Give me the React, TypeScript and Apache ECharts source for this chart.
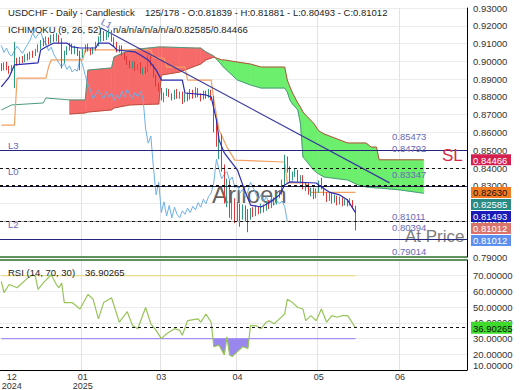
import React, { useEffect, useRef } from "react";
import * as echarts from "echarts";

const FONT = "'Liberation Sans', Arial, sans-serif";
const SLOTS = 178;
const categories = Array.from({ length: SLOTS }, (_, i) => String(i));

const dateTickIdx = [4, 31, 61, 90, 121, 152];
const dateTickText = ["12\n2024", "01\n2025", "03", "04", "05", "06"];
const gridLineIdx = [31, 61, 90, 121, 152];

// [open, close, low, high]
const candles: number[][] = [
  [0.8975, 0.8955, 0.8945, 0.899], [0.8955, 0.8985, 0.895, 0.8995], [0.8985, 0.896, 0.895, 0.8998],
  [0.896, 0.894, 0.893, 0.8975], [0.894, 0.8972, 0.8935, 0.898], [0.8972, 0.9, 0.885, 0.911],
  [0.9, 0.8985, 0.8975, 0.902], [0.8985, 0.9015, 0.898, 0.9025], [0.9015, 0.9002, 0.899, 0.903],
  [0.9002, 0.903, 0.8995, 0.904], [0.903, 0.9018, 0.9005, 0.9045], [0.9018, 0.9045, 0.901, 0.9055],
  [0.9045, 0.9035, 0.902, 0.906], [0.9035, 0.9062, 0.903, 0.907], [0.9062, 0.908, 0.905, 0.9095],
  [0.908, 0.911, 0.907, 0.912], [0.911, 0.9095, 0.9085, 0.913], [0.9095, 0.9125, 0.909, 0.914],
  [0.9125, 0.9108, 0.9095, 0.9135], [0.9108, 0.9138, 0.91, 0.915], [0.9138, 0.912, 0.911, 0.9155],
  [0.912, 0.9142, 0.9112, 0.916], [0.9142, 0.911, 0.91, 0.915], [0.911, 0.9, 0.896, 0.913],
  [0.9, 0.9045, 0.899, 0.906], [0.9045, 0.907, 0.9035, 0.9085], [0.907, 0.909, 0.906, 0.9105],
  [0.909, 0.905, 0.904, 0.91], [0.905, 0.9075, 0.904, 0.9088], [0.9075, 0.904, 0.903, 0.908],
  [0.904, 0.903, 0.895, 0.906], [0.903, 0.906, 0.902, 0.907], [0.906, 0.9085, 0.905, 0.9095],
  [0.9085, 0.9065, 0.9055, 0.91], [0.9065, 0.9045, 0.9035, 0.9075], [0.9045, 0.907, 0.904, 0.908],
  [0.907, 0.9095, 0.906, 0.911], [0.9095, 0.912, 0.9085, 0.914], [0.912, 0.916, 0.911, 0.9188],
  [0.916, 0.913, 0.9115, 0.917], [0.913, 0.915, 0.912, 0.9165], [0.915, 0.9165, 0.9135, 0.918],
  [0.9165, 0.912, 0.911, 0.9175], [0.912, 0.91, 0.9085, 0.9135], [0.91, 0.906, 0.905, 0.911],
  [0.906, 0.908, 0.905, 0.909], [0.908, 0.904, 0.903, 0.909], [0.904, 0.9015, 0.9005, 0.905],
  [0.9015, 0.899, 0.898, 0.903], [0.899, 0.897, 0.896, 0.9005], [0.897, 0.899, 0.896, 0.9],
  [0.899, 0.8955, 0.8945, 0.9], [0.8955, 0.8975, 0.895, 0.8985], [0.8975, 0.894, 0.893, 0.8995],
  [0.894, 0.8955, 0.8925, 0.8965], [0.8955, 0.8945, 0.893, 0.897], [0.8945, 0.902, 0.894, 0.9035],
  [0.902, 0.898, 0.897, 0.903], [0.898, 0.892, 0.891, 0.8985], [0.892, 0.887, 0.886, 0.8925],
  [0.887, 0.884, 0.883, 0.888], [0.884, 0.879, 0.878, 0.885], [0.879, 0.8815, 0.877, 0.8825],
  [0.8815, 0.8838, 0.8805, 0.885], [0.8838, 0.8812, 0.88, 0.8845], [0.8812, 0.879, 0.878, 0.882],
  [0.879, 0.883, 0.8785, 0.884], [0.883, 0.88, 0.879, 0.8845], [0.88, 0.8822, 0.879, 0.883],
  [0.8822, 0.878, 0.876, 0.883], [0.878, 0.881, 0.877, 0.882], [0.881, 0.879, 0.8775, 0.8825],
  [0.879, 0.8832, 0.8785, 0.8845], [0.8832, 0.88, 0.879, 0.884], [0.88, 0.8842, 0.8795, 0.8855],
  [0.8842, 0.8812, 0.88, 0.885], [0.8812, 0.879, 0.8775, 0.882], [0.879, 0.8825, 0.8785, 0.8835],
  [0.8825, 0.88, 0.879, 0.8835], [0.88, 0.883, 0.8795, 0.8845], [0.883, 0.8795, 0.878, 0.884],
  [0.8795, 0.862, 0.86, 0.8805], [0.862, 0.854, 0.852, 0.866], [0.854, 0.858, 0.845, 0.86],
  [0.858, 0.84, 0.838, 0.859], [0.84, 0.825, 0.82, 0.842], [0.825, 0.832, 0.818, 0.834],
  [0.832, 0.815, 0.812, 0.833], [0.815, 0.821, 0.811, 0.824], [0.821, 0.813, 0.809, 0.823],
  [0.813, 0.819, 0.81, 0.821], [0.819, 0.812, 0.807, 0.82], [0.812, 0.818, 0.811, 0.8195],
  [0.818, 0.814, 0.81, 0.819], [0.814, 0.812, 0.80394, 0.817], [0.812, 0.816, 0.811, 0.8175],
  [0.816, 0.814, 0.8125, 0.818], [0.814, 0.8175, 0.813, 0.819], [0.8175, 0.815, 0.814, 0.8185],
  [0.815, 0.8185, 0.8145, 0.82], [0.8185, 0.8165, 0.815, 0.8195], [0.8165, 0.8205, 0.816, 0.8215],
  [0.8205, 0.818, 0.817, 0.822], [0.818, 0.8225, 0.8175, 0.824], [0.8225, 0.82, 0.819, 0.8235],
  [0.82, 0.824, 0.8195, 0.8255], [0.824, 0.826, 0.823, 0.8275], [0.826, 0.832, 0.825, 0.8335],
  [0.831, 0.845, 0.83, 0.8475], [0.845, 0.839, 0.8375, 0.8465], [0.839, 0.834, 0.832, 0.841],
  [0.834, 0.8365, 0.833, 0.838], [0.8365, 0.838, 0.835, 0.8395], [0.838, 0.833, 0.832, 0.839],
  [0.833, 0.835, 0.8315, 0.836], [0.835, 0.829, 0.828, 0.836], [0.829, 0.8305, 0.827, 0.832],
  [0.8305, 0.826, 0.825, 0.8315], [0.826, 0.828, 0.824, 0.829], [0.828, 0.8235, 0.8225, 0.829],
  [0.8235, 0.827, 0.823, 0.8285], [0.827, 0.832, 0.826, 0.833], [0.834, 0.829, 0.828, 0.8345],
  [0.829, 0.8255, 0.8245, 0.83], [0.8255, 0.8225, 0.821, 0.8265], [0.8225, 0.825, 0.8215, 0.826],
  [0.825, 0.821, 0.82, 0.826], [0.821, 0.824, 0.8205, 0.825], [0.824, 0.82, 0.819, 0.8245],
  [0.82, 0.823, 0.8195, 0.824], [0.823, 0.8195, 0.8185, 0.8235], [0.8195, 0.8215, 0.819, 0.8225],
  [0.8215, 0.82, 0.8185, 0.8225], [0.82, 0.8215, 0.819, 0.823], [0.8215, 0.81839, 0.817, 0.822],
  [0.81839, 0.81012, 0.80493, 0.81881],
];

const CHIKOU_SHIFT = 26;

const tenkan = [
  [0, 0.8856], [3, 0.8912], [5, 0.898], [14, 0.8991], [15, 0.9064], [17, 0.9081], [20, 0.9103],
  [25, 0.9103], [27, 0.9081], [30, 0.9075], [36, 0.9075], [37, 0.9103], [41, 0.9103], [43, 0.9081],
  [44, 0.9064], [51, 0.9053], [53, 0.9036], [56, 0.9008], [59, 0.8952], [61, 0.8895], [69, 0.8895],
  [70, 0.8822], [78, 0.8811], [80, 0.88], [82, 0.867], [83, 0.8558], [85, 0.8485], [90, 0.8389],
  [93, 0.8265], [95, 0.8192], [99, 0.8181], [102, 0.8204], [106, 0.8249], [108, 0.8305], [110, 0.8322],
  [120, 0.8316], [122, 0.8294], [125, 0.8265], [129, 0.8249], [132, 0.822], [135, 0.81493],
];

const kijun = [
  [0, 0.8642], [5, 0.8642], [6, 0.8906], [17, 0.8906], [18, 0.8968], [19, 0.9008], [31, 0.9008],
  [32, 0.9064], [57, 0.9064], [58, 0.9019], [62, 0.9019], [63, 0.8968], [70, 0.8968], [71, 0.8895],
  [80, 0.8895], [81, 0.8783], [83, 0.8614], [86, 0.8518], [89, 0.8445], [108, 0.8434], [109, 0.8316],
  [116, 0.8316], [118, 0.8263], [135, 0.8263],
];

const senkouAEarly = [[0, 0.8727], [4, 0.8755], [16, 0.8766], [17, 0.8794]];
const cloudIdx = [26, 32, 33, 42, 43, 49, 60, 61, 68, 74, 76, 78, 81, 84, 85, 90, 95, 99, 108, 109, 110,
  111, 113, 114, 115, 116, 119, 121, 123, 126, 132, 136, 139, 141, 143, 144, 152, 161];
const spanA = [0.8783, 0.8783, 0.8951, 0.8963, 0.9025, 0.9064, 0.9081, 0.9081, 0.9078, 0.9075, 0.9075,
  0.9053, 0.903, 0.898, 0.8963, 0.8895, 0.8867, 0.885, 0.885, 0.8828, 0.8783, 0.876, 0.8727, 0.8653,
  0.8462, 0.8445, 0.8389, 0.8367, 0.835, 0.8344, 0.8333, 0.8305, 0.8294, 0.8291, 0.8288, 0.8288, 0.8277, 0.82585];
const spanB = [0.8704, 0.871, 0.8715, 0.8727, 0.8738, 0.8755, 0.876, 0.8923, 0.894, 0.8974, 0.8985,
  0.9008, 0.9024, 0.9008, 0.9008, 0.8996, 0.8985, 0.8968, 0.8968, 0.8895, 0.8856, 0.8822, 0.8766, 0.8743,
  0.8715, 0.8698, 0.8653, 0.8609, 0.8592, 0.8575, 0.8541, 0.8541, 0.8541, 0.8518, 0.8518, 0.84466, 0.84466, 0.84466];

const trendLine = [[38, 0.91876], [148, 0.83169]];

const levelValues = [0.85473, 0.84792, 0.83347, 0.81011, 0.80394, 0.79014];
const levelNames = ["", "L3", "L0", "", "L2", ""];
const stopLoss = 0.84466;
const kijunLevel = 0.8263;
const tenkanLevel = 0.81493;

const tagValues = [0.84466, 0.8263, 0.82585, 0.81493, 0.81012, 0.81012];

const rsiPts = [
  [0, 66.4], [1, 59.2], [3, 64.4], [6, 62.3], [10, 68.5], [12, 70.6], [13, 69.6], [14, 61.3], [16, 65.4],
  [19, 70.6], [21, 64.4], [22, 62.3], [23, 65.4], [24, 52.9], [27, 52.9], [30, 48.8], [33, 58.1], [35, 55.0],
  [37, 42.5], [39, 52.9], [42, 56.0], [45, 40.4], [48, 47.1], [50, 38.3], [52, 36.3], [55, 49.8], [57, 39.4],
  [59, 35.2], [61, 30.0], [63, 33.1], [66, 36.3], [68, 35.2], [69, 32.1], [71, 41.4], [75, 42.5], [76, 40.4],
  [78, 45.6], [80, 40.4], [81, 24.8], [83, 25.8], [85, 19.6], [86, 31.1], [87, 19.6], [88, 18.6], [90, 21.7],
  [92, 24.8], [94, 23.8], [95, 38.3], [97, 38.3], [99, 36.3], [101, 40.4], [102, 41.4], [104, 39.4],
  [106, 42.5], [108, 45.6], [109, 55.0], [111, 52.9], [113, 49.8], [115, 48.8], [116, 41.4], [118, 44.6],
  [120, 41.4], [122, 48.8], [124, 40.4], [126, 44.6], [128, 43.6], [130, 44.6], [132, 44.6], [135, 36.90265],
];
const rsiUpper = 70;
const rsiLower = 30;
const rsiMin = 10;
const rsiMax = 80;

const titleText = "USDCHF - Daily - Candlestick";
const ohlcText = "125/178 - O:0.81839 - H:0.81881 - L:0.80493 - C:0.81012";
const ichiText = "ICHIMOKU (9, 26, 52)";
const ichiValues = "n/a/n/a/n/a/n/a/0.82585/0.84466";
const rsiText = "RSI (14, 70, 30)";

const RED_CLOUD = "#f76a6a";
const GREEN_CLOUD = "#6cef6c";
const NAVY = "#26267e";
const LABEL_BLUE = "#6a6ab8";

const PLOT_W = 467;
const MAIN_TOP = 8;
const MAIN_H = 249;
const RSI_TOP = 260;
const RSI_H = 110;

function buildOption(): any {
  const lastRsi = rsiPts[rsiPts.length - 1][1];
  const lastIdx = candles.length - 1;
  const chikou = candles.slice(CHIKOU_SHIFT).map((c, j) => [j, c[1]]);
  const cloudSeg = cloudIdx.slice(0, -1).map((x, k) => [x, spanA[k], k]);
  const spanALine = senkouAEarly.concat(cloudIdx.map((x, k) => [x, spanA[k]]));
  const spanBLine = cloudIdx.map((x, k) => [x, spanB[k]]);

  const levelColors = ["#e02a2a", NAVY, NAVY, "#a9a9a9", NAVY, "#2f6e2f"];
  const levelMarks: any[] = levelValues.map((v, k) => ({
    yAxis: v,
    lineStyle: { color: levelColors[k], type: "solid", width: k === 5 ? 1.5 : 1 },
    label: { show: false },
  }));
  levelMarks.push({ yAxis: stopLoss, lineStyle: { color: "#111", type: [3, 3], width: 1 }, label: { show: false } });
  levelMarks.push({ yAxis: kijunLevel, lineStyle: { color: "#111", type: [3, 3], width: 2 }, label: { show: false } });
  levelMarks.push({ yAxis: tenkanLevel, lineStyle: { color: "#111", type: [3, 3], width: 1 }, label: { show: false } });

  const xCommon = {
    type: "category",
    data: categories,
    boundaryGap: true,
    axisTick: { show: false },
    splitLine: { show: true, interval: (i: number) => gridLineIdx.includes(i), lineStyle: { color: "#e2e2e2" } },
  };
  const lowTop = RSI_TOP + ((rsiMax - rsiLower) / (rsiMax - rsiMin)) * RSI_H;

  return {
    animation: false,
    backgroundColor: "#ffffff",
    textStyle: { fontFamily: FONT },
    grid: [
      { left: 0, top: MAIN_TOP, width: PLOT_W, height: MAIN_H, outerBoundsMode: "none" },
      { left: 0, top: RSI_TOP, width: PLOT_W, height: RSI_H, outerBoundsMode: "none" },
      { left: 0, top: lowTop, width: PLOT_W, height: RSI_TOP + RSI_H - lowTop, outerBoundsMode: "none" },
    ],
    xAxis: [
      { ...xCommon, gridIndex: 0, axisLine: { show: false }, axisLabel: { show: false } },
      {
        ...xCommon,
        gridIndex: 1,
        axisLine: { show: true, lineStyle: { color: "#000", width: 1 } },
        axisLabel: {
          show: true,
          interval: (i: number) => dateTickIdx.includes(i),
          formatter: (_v: string, i: number) => dateTickText[dateTickIdx.indexOf(i)] || "",
          fontSize: 9,
          lineHeight: 9,
          margin: 2,
          color: "#333",
        },
      },
      { type: "category", data: categories, boundaryGap: true, gridIndex: 2, show: false },
    ],
    yAxis: [
      {
        type: "value", gridIndex: 0, position: "right", min: 0.79, max: 0.93, interval: 0.01,
        axisLine: { show: true, lineStyle: { color: "#000" } }, axisTick: { show: false },
        axisLabel: { formatter: (v: number) => v.toFixed(5), fontSize: 9.5, color: "#333", margin: 6 },
        splitLine: { show: true, lineStyle: { color: "#ececec" } },
      },
      {
        type: "value", gridIndex: 1, position: "right", min: rsiMin, max: rsiMax, interval: 10,
        axisLine: { show: true, lineStyle: { color: "#000" } }, axisTick: { show: false },
        axisLabel: { formatter: (v: number) => v.toFixed(5), fontSize: 9.5, color: "#333", margin: 6, showMaxLabel: false, verticalAlignMinLabel: "bottom" },
        splitLine: { show: true, lineStyle: { color: "#ececec" } },
      },
      { type: "value", gridIndex: 2, min: rsiMin, max: rsiLower, show: false },
    ],
    series: [
      {
        type: "custom", name: "cloud", xAxisIndex: 0, yAxisIndex: 0, z: 1,
        data: cloudSeg, encode: { x: 0, y: 1 },
        renderItem: (_p: any, api: any) => {
          if (!api) return null;
          const k = api.value(2) as number;
          const a0 = api.coord([cloudIdx[k], spanA[k]]);
          const a1 = api.coord([cloudIdx[k + 1], spanA[k + 1]]);
          const b0 = api.coord([cloudIdx[k], spanB[k]]);
          const b1 = api.coord([cloudIdx[k + 1], spanB[k + 1]]);
          const d0 = a0[1] - b0[1];
          const d1 = a1[1] - b1[1];
          const col = (d: number) => (d < 0 ? RED_CLOUD : GREEN_CLOUD);
          const poly = (pts: number[][], c: string) => ({
            type: "polygon", shape: { points: pts }, style: { fill: c, stroke: c, lineWidth: 0.6 },
          });
          const children: any[] = [];
          if (d0 * d1 < 0) {
            const t = d0 / (d0 - d1);
            const p = [a0[0] + t * (a1[0] - a0[0]), a0[1] + t * (a1[1] - a0[1])];
            children.push(poly([a0, p, b0], col(d0)), poly([p, a1, b1], col(d1)));
          } else {
            children.push(poly([a0, a1, b1, b0], col(d0 + d1)));
          }
          return { type: "group", children };
        },
      },
      { type: "line", name: "senkouA", data: spanALine, symbol: "none", lineStyle: { color: "#4a9a7c", width: 1 }, z: 2 },
      { type: "line", name: "senkouB", data: spanBLine, symbol: "none", lineStyle: { color: "#b9503e", width: 1 }, z: 2 },
      { type: "line", name: "chikou", data: chikou, symbol: "none", lineStyle: { color: "#6cb0e8", width: 1 }, z: 2 },
      {
        type: "line", name: "kijun", data: kijun, symbol: "none", lineStyle: { color: "#f3a062", width: 1.2 }, z: 3,
        markLine: { symbol: "none", silent: true, animation: false, data: levelMarks },
      },
      { type: "line", name: "trend", data: trendLine, symbol: "none", lineStyle: { color: "#3a3a9e", width: 1.2 }, z: 3 },
      {
        type: "candlestick", name: "price", data: candles, barWidth: 1.2, z: 4,
        itemStyle: { color: "#2b9a80", color0: "#e03838", borderColor: "#2b9a80", borderColor0: "#e03838", borderWidth: 1 },
      },
      { type: "line", name: "tenkan", data: tenkan, symbol: "none", lineStyle: { color: "#2c2cb0", width: 1.2 }, z: 5 },
      {
        type: "line", name: "rsiLow", xAxisIndex: 2, yAxisIndex: 2, data: rsiPts, symbol: "none", clip: true,
        lineStyle: { width: 0 }, areaStyle: { origin: "end", color: "#9a87ee", opacity: 1 }, z: 1,
      },
      { type: "line", xAxisIndex: 1, yAxisIndex: 1, data: [[0, rsiUpper], [lastIdx, rsiUpper]], symbol: "none", lineStyle: { color: "#e9da8c", width: 1.2 }, z: 2 },
      { type: "line", xAxisIndex: 1, yAxisIndex: 1, data: [[0, rsiLower], [lastIdx, rsiLower]], symbol: "none", lineStyle: { color: "#a98ef2", width: 1.2 }, z: 2 },
      {
        type: "line", name: "rsi", xAxisIndex: 1, yAxisIndex: 1, data: rsiPts, symbol: "none",
        lineStyle: { color: "#98c45a", width: 1.2 }, z: 3,
        markLine: {
          symbol: "none", silent: true, animation: false,
          data: [
            { yAxis: lastRsi, lineStyle: { color: "#111", type: [3, 3], width: 1 }, label: { show: false } },
            { yAxis: rsiMax, lineStyle: { color: "#2f6e2f", type: "solid", width: 1.5 }, label: { show: false } },
          ],
        },
      },
    ],
  };
}

function txt(text: string, x: number, y: number, size: number, fill: string): any {
  return {
    type: "text", x, y, z: 100,
    style: { text, fill, fontSize: size, fontFamily: FONT, align: "left", verticalAlign: "middle" },
  };
}

function buildGraphics(chart: any): any[] {
  const tagFill = ["#d41f4f", "#f47a20", "#2a8a84", "#1a1ab8", "#d9736b", "#5d8ff0"];
  const tagInk = ["#ffffff", "#111111", "#ffffff", "#ffffff", "#ffffff", "#ffffff"];
  const py = (v: number) => chart.convertToPixel({ yAxisIndex: 0 }, v) as number;
  const g: any[] = [];

  levelValues.forEach((v, k) => {
    const y = py(v);
    g.push(txt(v.toFixed(5), 392, y - 5, 9.5, LABEL_BLUE));
    if (levelNames[k]) g.push(txt(levelNames[k], 8, y - 8, 9.5, LABEL_BLUE));
  });
  g.push(txt("SL", 442, py(stopLoss) - 4, 17, "#d8284a"));

  let prev = -1e9;
  tagValues.forEach((v, k) => {
    let y = py(v);
    y = Math.max(y, prev + 12);
    prev = y;
    g.push({ type: "rect", z: 100, shape: { x: 471, y: y - 5.5, width: 40, height: 11 }, style: { fill: tagFill[k] } });
    g.push(txt(v.toFixed(5), 473, y + 0.5, 9.5, tagInk[k]));
  });
  const lastRsi = rsiPts[rsiPts.length - 1][1];
  const ry = chart.convertToPixel({ yAxisIndex: 1 }, lastRsi) as number;
  g.push({ type: "rect", z: 100, shape: { x: 471, y: ry - 6, width: 41, height: 12 }, style: { fill: "#3edb2c" } });
  g.push(txt(lastRsi.toFixed(5), 473, ry + 0.5, 9.5, "#111"));

  g.push(txt(titleText, 8, 12, 9.5, "#222"));
  g.push(txt(ohlcText, 145, 12, 9.5, "#222"));
  g.push(txt(ichiText, 8, 29, 9.5, "#222"));
  g.push(txt(ichiValues, 113, 29, 9.5, "#222"));
  g.push(txt(rsiText, 8, 272, 9.5, "#222"));
  g.push(txt(lastRsi.toFixed(5), 85, 272, 9.5, "#222"));

  const tp = chart.convertToPixel({ gridIndex: 0 }, trendLine[0]) as number[];
  g.push({ ...txt("L1", tp[0] + 1, tp[1] - 7, 9.5, LABEL_BLUE), rotation: -0.49 });

  g.push({ ...txt("Ariloen", 212, 194, 24, "rgba(70,70,70,0.85)"), z: 0 });
  g.push({ ...txt("At Price", 405, 236, 17, "#7c7c7c"), z: 0 });
  return g;
}

export default function App() {
  const ref = useRef<HTMLDivElement>(null);
  useEffect(() => {
    if (!ref.current) return;
    const chart = echarts.init(ref.current, null, { renderer: "svg" });
    chart.setOption(buildOption());
    chart.setOption({ graphic: buildGraphics(chart) });
    return () => chart.dispose();
  }, []);
  return <div ref={ref} style={{ position: "fixed", left: 0, top: 0, width: 520, height: 390, background: "#fff" }} />;
}
